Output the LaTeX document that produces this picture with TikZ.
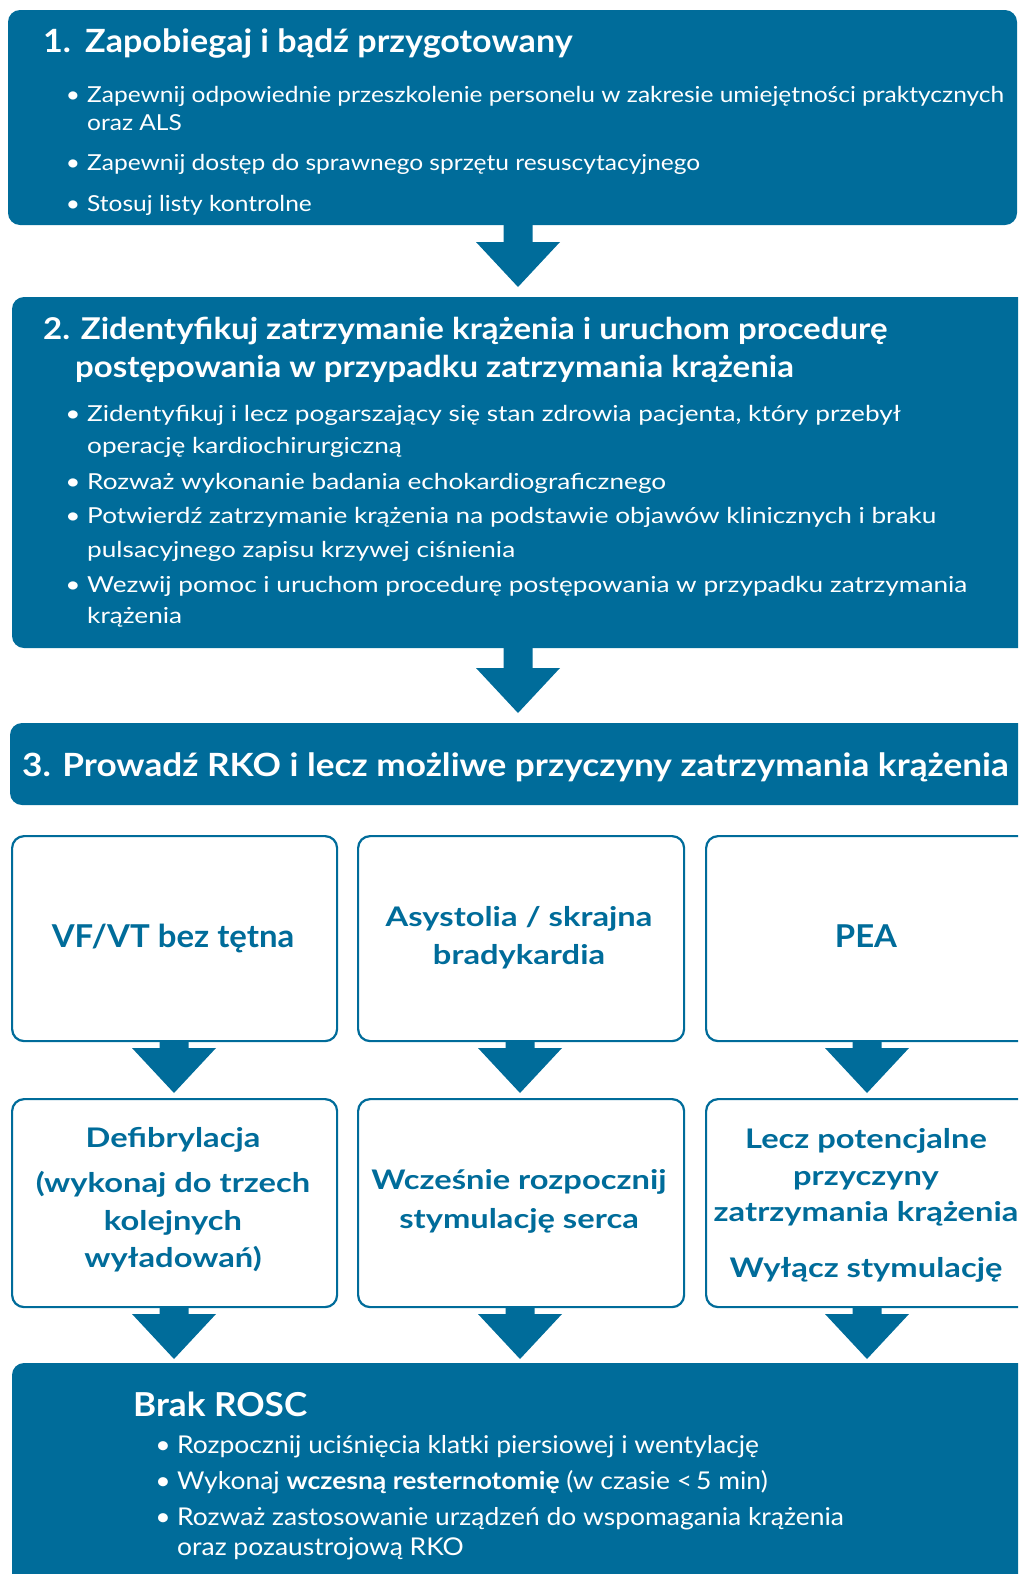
\documentclass[tikz,border=0pt]{standalone}
\usepackage{fontspec}
\setmainfont{Lato}
% Lato set a little wider, one family per text group
\newfontfamily\fTa[FakeStretch=1.065]{Lato}
\newfontfamily\fTb[FakeStretch=1.10]{Lato}
\newfontfamily\fTc[FakeStretch=1.10]{Lato}
\newfontfamily\fBa[FakeStretch=1.115]{Lato}
\newfontfamily\fBb[FakeStretch=1.19]{Lato}
\newfontfamily\fBc[FakeStretch=1.08]{Lato}
\newfontfamily\fCa[FakeStretch=1.045]{Lato}
\newfontfamily\fCb[FakeStretch=1.21]{Lato}
\usetikzlibrary{calc}
\definecolor{panelblue}{RGB}{0,108,154}

% block arrow pointing down from one box to the next, on a given column line
\newcommand\blockarrow[4]{%
  \fill[panelblue] let \p1=(#1 |- #2.south), \p2=(#1 |- #3.north) in
    (\x1-14.5pt,\y1+1pt) -- (\x1+14.5pt,\y1+1pt) -- (\x1+14.5pt,\y2+#4pt+45pt)
    -- (\x1+42pt,\y2+#4pt+45pt) -- (\x1,\y2+#4pt) -- (\x1-42pt,\y2+#4pt+45pt)
    -- (\x1-14.5pt,\y2+#4pt+45pt) -- cycle;}

% bullet item: name, x of bullet centre, baseline y, text, style
\newcommand\bulitem[5]{%
  \node[wtxt,#5,anchor=base] (#1-b) at (#2,#3) {•};
  \node[wtxt,#5] (#1) at ($(#2,#3)+(14,0)$) {#4};}

\begin{document}
\begin{tikzpicture}[x=1pt,y=-1pt,
  panel/.style={fill=panelblue, rounded corners=12pt, inner sep=0pt, outer sep=0pt, anchor=north west},
  frame/.style={draw=panelblue, line width=2.2pt, fill=white, rounded corners=12pt, inner sep=0pt, anchor=north west},
  wtxt/.style={text=white, inner sep=0pt, anchor=base west},
  ctxt/.style={text=panelblue, inner sep=0pt, anchor=base},
  h1/.style={font=\fontsize{32}{38}\fTa\bfseries},
  h2/.style={font=\fontsize{30}{36}\fTb\bfseries},
  h3/.style={font=\fontsize{32}{38}\fTc\bfseries},
  b1/.style={font=\fontsize{22}{26}\fBa},
  b2/.style={font=\fontsize{22}{26}\fBb},
  b3/.style={font=\fontsize{24.5}{29}\fBc},
  cbig/.style={font=\fontsize{31.5}{37}\fCa\bfseries},
  cmid/.style={font=\fontsize{27}{32}\fCb\bfseries},
]
\useasboundingbox (0,0) rectangle (1018,1574);
\clip (0,0) rectangle (1018,1574);

% column lines
\coordinate (cA) at (518,0);
\coordinate (cL) at (174,0);
\coordinate (cM) at (520,0);
\coordinate (cR) at (867,0);

% ---- step 1 ----
\node[panel, minimum width=1009pt, minimum height=215pt] (s1) at (8,10) {};
\node[wtxt,h1] (s1n) at (43,52) {1.};
\node[wtxt,h1] (s1t) at (85,52) {Zapobiegaj i bądź przygotowany};
\bulitem{s1a}{73}{102}{Zapewnij odpowiednie przeszkolenie personelu w zakresie umiejętności praktycznych}{b1}
\node[wtxt,b1] (s1a2) at (87,130) {oraz ALS};
\bulitem{s1b}{73}{170}{Zapewnij dostęp do sprawnego sprzętu resuscytacyjnego}{b1}
\bulitem{s1c}{73}{211}{Stosuj listy kontrolne}{b1}

% ---- step 2 ----
\node[panel, minimum width=1030pt, minimum height=351pt] (s2) at (12,297) {};
\node[wtxt,h2] (s2t) at (43,339) {2. Zidentyfikuj zatrzymanie krążenia i uruchom procedurę};
\node[wtxt,h2] (s2t2) at (75,377) {postępowania w przypadku zatrzymania krążenia};
\bulitem{s2a}{73}{421}{Zidentyfikuj i lecz pogarszający się stan zdrowia pacjenta, który przebył}{b2}
\node[wtxt,b2] (s2a2) at (87,453) {operację kardiochirurgiczną};
\bulitem{s2b}{73}{489}{Rozważ wykonanie badania echokardiograficznego}{b2}
\bulitem{s2c}{73}{523}{Potwierdź zatrzymanie krążenia na podstawie objawów klinicznych i braku}{b2}
\node[wtxt,b2] (s2c2) at (87,557) {pulsacyjnego zapisu krzywej ciśnienia};
\bulitem{s2d}{73}{592}{Wezwij pomoc i uruchom procedurę postępowania w przypadku zatrzymania}{b2}
\node[wtxt,b2] (s2d2) at (87,623) {krążenia};

% ---- step 3 ----
\node[panel, minimum width=1030pt, minimum height=82pt] (s3) at (10,723) {};
\node[wtxt,h3] (s3t) at (22,776) {3. Prowadź RKO i lecz możliwe przyczyny zatrzymania krążenia};

% ---- rhythm boxes ----
\node[frame, minimum width=325pt, minimum height=205pt] (r1) at (11,835) {};
\node[frame, minimum width=326pt, minimum height=205pt] (r2) at (357,835) {};
\node[frame, minimum width=325pt, minimum height=205pt] (r3) at (705,835) {};
\node[ctxt,cbig] (r1t) at (173,947) {VF/VT bez tętna};
\node[ctxt,cmid] (r2t) at (519,926) {Asystolia / skrajna};
\node[ctxt,cmid] (r2t2) at (519,964) {bradykardia};
\node[ctxt,cbig] (r3t) at (866,947) {PEA};

% ---- action boxes ----
\node[frame, minimum width=325pt, minimum height=208pt] (a1) at (11,1098) {};
\node[frame, minimum width=326pt, minimum height=208pt] (a2) at (357,1098) {};
\node[frame, minimum width=325pt, minimum height=208pt] (a3) at (705,1098) {};
\node[ctxt,cmid] (a1t) at (173,1147) {Defibrylacja};
\node[ctxt,cmid] (a1t2) at (173,1192) {(wykonaj do trzech};
\node[ctxt,cmid] (a1t3) at (173,1230) {kolejnych};
\node[ctxt,cmid] (a1t4) at (173,1267) {wyładowań)};
\node[ctxt,cmid] (a2t) at (519,1189) {Wcześnie rozpocznij};
\node[ctxt,cmid] (a2t2) at (519,1228) {stymulację serca};
\node[ctxt,cmid] (a3t) at (866,1148) {Lecz potencjalne};
\node[ctxt,cmid] (a3t2) at (866,1185) {przyczyny};
\node[ctxt,cmid] (a3t3) at (866,1221) {zatrzymania krążenia};
\node[ctxt,cmid] (a3t4) at (866,1277) {Wyłącz stymulację};

% ---- no ROSC ----
\node[panel, minimum width=1030pt, minimum height=260pt] (s4) at (12,1363) {};
\node[wtxt,font=\fontsize{33}{39}\fTa\bfseries] (s4t) at (133,1416) {Brak ROSC};
\bulitem{s4a}{163}{1453}{Rozpocznij uciśnięcia klatki piersiowej i wentylację}{b3}
\bulitem{s4b}{163}{1489}{Wykonaj \textbf{wczesną resternotomię} (w czasie <\,5 min)}{b3}
\bulitem{s4c}{163}{1525}{Rozważ zastosowanie urządzeń do wspomagania krążenia}{b3}
\node[wtxt,b3] (s4c2) at (177,1555) {oraz pozaustrojową RKO};

% ---- arrows ----
\blockarrow{cA}{s1}{s2}{10}
\blockarrow{cA}{s2}{s3}{10}
\blockarrow{cL}{r1}{a1}{5}
\blockarrow{cM}{r2}{a2}{5}
\blockarrow{cR}{r3}{a3}{5}
\blockarrow{cL}{a1}{s4}{4}
\blockarrow{cM}{a2}{s4}{4}
\blockarrow{cR}{a3}{s4}{4}
\end{tikzpicture}
\end{document}
